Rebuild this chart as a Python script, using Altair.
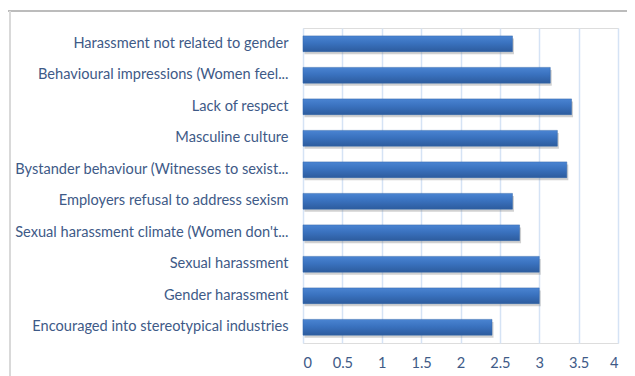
import altair as alt
import pandas as pd

categories = [
    "Harassment not related to gender",
    "Behavioural impressions (Women feel...",
    "Lack of respect",
    "Masculine culture",
    "Bystander behaviour (Witnesses to sexist...",
    "Employers refusal to address sexism",
    "Sexual harassment climate (Women don't...",
    "Sexual harassment",
    "Gender harassment",
    "Encouraged into stereotypical industries",
]
values = [2.66, 3.14, 3.41, 3.23, 3.35, 2.66, 2.75, 3.0, 3.0, 2.40]
x_ticks = [0, 0.5, 1, 1.5, 2, 2.5, 3, 3.5, 4]

df = pd.DataFrame({"category": categories, "value": values})

FONT = "Lato"
TXT = "#3E5A87"

yenc = alt.Y(
    "category:N",
    sort=categories,
    scale=alt.Scale(paddingInner=0.5, paddingOuter=0.25),
    axis=alt.Axis(
        title=None, domain=False, ticks=False, grid=False,
        labelPadding=15, labelFont=FONT, labelFontSize=14.6,
        labelColor=TXT, labelLimit=300,
    ),
)
xenc = alt.X(
    "value:Q",
    scale=alt.Scale(domain=[0, 4], nice=False),
    axis=alt.Axis(
        title=None, values=x_ticks, format="~g", domain=False, ticks=False,
        grid=True, gridColor="#D5E3F5", gridWidth=1.5,
        labelPadding=12, labelFont=FONT, labelFontSize=14.6, labelColor=TXT,
    ),
)

base = alt.Chart(df)

shadow = base.mark_bar(
    color="#7a7a7a", opacity=0.35, xOffset=1.5, yOffset=2.5
).encode(x=xenc, y=yenc)

bars = base.mark_bar(
    color=alt.Gradient(
        gradient="linear",
        stops=[
            alt.GradientStop(color="#4A84D2", offset=0),
            alt.GradientStop(color="#3A72BF", offset=0.45),
            alt.GradientStop(color="#2D5C9E", offset=1),
        ],
        x1=0, x2=0, y1=0, y2=1,
    ),
    stroke="#3366AA", strokeWidth=0.5,
).encode(x=xenc, y=yenc)

frame_top = alt.Chart(pd.DataFrame({"a": [0]})).mark_rule(
    color="#A6A6A6", strokeWidth=1.5
).encode(x=alt.value(-305), x2=alt.value(330), y=alt.value(-17))

frame_left = alt.Chart(pd.DataFrame({"a": [0]})).mark_rule(
    color="#D9D9D9", strokeWidth=2
).encode(x=alt.value(-293), y=alt.value(-17), y2=alt.value(370))

chart = (
    alt.layer(shadow, bars, frame_top, frame_left)
    .properties(
        width=315, height=315,
        autosize=alt.AutoSizeParams(type="none"),
        padding={"left": 295, "top": 20, "right": 9, "bottom": 33},
    )
    .configure_view(stroke=None)
    .configure(background="white")
)

chart.save("out.html", embed_options={"renderer": "svg", "actions": False})
